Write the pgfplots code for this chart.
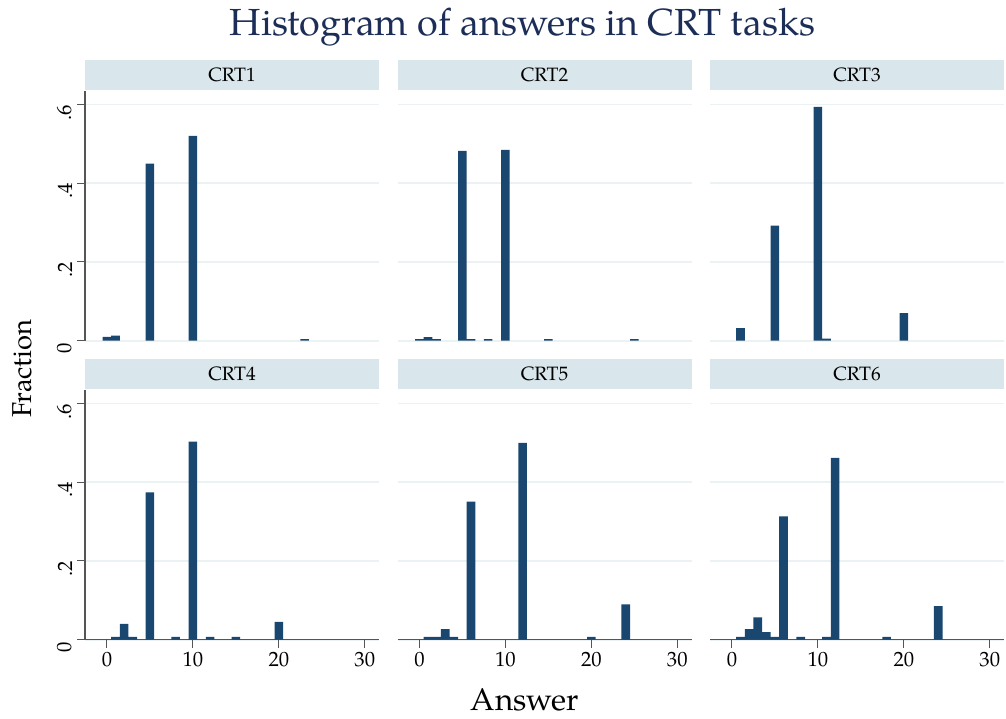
\documentclass[border=0pt]{standalone}
\usepackage{fontspec}
\setmainfont{TeX Gyre Pagella}
\usepackage{pgfplots}
\usepackage{pgfplotstable}
\pgfplotsset{compat=1.18}
\definecolor{barcol}{RGB}{26,71,111}
\definecolor{stripcol}{RGB}{217,230,235}
\definecolor{gridcol}{RGB}{234,242,243}
\definecolor{titlecol}{RGB}{28,46,88}
\definecolor{axcol}{RGB}{85,85,85}

\pgfplotstableread{
x y
0 0.0094
1 0.0127
5 0.450
10 0.520
23 0.004
}\crtA
\pgfplotstableread{
x y
0 0.004
1 0.009
2 0.004
5 0.482
6 0.004
8 0.004
10 0.485
15 0.004
25 0.004
}\crtB
\pgfplotstableread{
x y
1 0.032
5 0.292
10 0.594
11 0.005
20 0.070
}\crtC
\pgfplotstableread{
x y
1 0.007
2 0.040
3 0.007
5 0.374
8 0.007
10 0.503
12 0.007
15 0.007
20 0.045
}\crtD
\pgfplotstableread{
x y
1 0.007
2 0.007
3 0.027
4 0.007
6 0.351
12 0.500
20 0.007
24 0.090
}\crtE
\pgfplotstableread{
x y
1 0.007
2 0.027
3 0.057
4 0.019
5 0.007
6 0.313
8 0.007
11 0.007
12 0.462
18 0.007
24 0.085
}\crtF

\pgfplotsset{
  panel/.style={
    scale only axis, width=220.5pt, height=187.5pt,
    anchor=south west,
    xmin=-2.55, xmax=31.65, ymin=0, ymax=0.635,
    axis x line*=bottom, axis y line*=left,
    axis line style={draw=axcol, line width=1pt, -},
    ytick={0,0.2,0.4,0.6}, yticklabels={0,.2,.4,.6},
    xtick={0,10,20,30},
    /pgf/number format/assume math mode=true,
    ymajorgrids, major grid style={draw=gridcol, line width=1.3pt},
    tick align=outside, major tick length=6pt,
    every tick/.style={draw=axcol, line width=0.8pt},
    tick label style={font=\fontsize{15.5}{18}\selectfont, text=black},
    yticklabel style={rotate=90, anchor=south, xshift=-6pt},
    clip=false,
  },
  toprow/.style={xtick=\empty, x axis line style={draw=none}},
  inner/.style={yticklabels={}, y axis line style={draw=none}, ytick style={draw=none}},
  bars/.style={ybar, bar width=1, bar shift=0pt, fill=barcol, draw=none},
}

\newcommand{\strip}[1]{%
  \fill[stripcol] ([yshift=0.8pt]rel axis cs:0,1) rectangle ([yshift=22.8pt]rel axis cs:1,1);
  \node[font=\fontsize{14.5}{16}\selectfont] at ([yshift=11.8pt]rel axis cs:0.5,1) {#1};
}

\begin{document}
\begin{tikzpicture}
\useasboundingbox (0,0) rectangle (754.5pt,538.5pt);

\begin{axis}[panel, toprow, at={(63.75pt,282.975pt)}]
\addplot[bars] table {\crtA};
\strip{CRT1}
\end{axis}
\begin{axis}[panel, toprow, inner, at={(298.125pt,282.975pt)}]
\addplot[bars] table {\crtB};
\strip{CRT2}
\end{axis}
\begin{axis}[panel, toprow, inner, at={(532.5pt,282.975pt)}]
\addplot[bars] table {\crtC};
\strip{CRT3}
\end{axis}

\begin{axis}[panel, at={(63.75pt,58.725pt)}]
\addplot[bars] table {\crtD};
\strip{CRT4}
\end{axis}
\begin{axis}[panel, inner, at={(298.125pt,58.725pt)}]
\addplot[bars] table {\crtE};
\strip{CRT5}
\end{axis}
\begin{axis}[panel, inner, at={(532.5pt,58.725pt)}]
\addplot[bars] table {\crtF};
\strip{CRT6}
\end{axis}

\node[font=\fontsize{28.3}{32}\selectfont, text=titlecol] at (392pt,518.5pt) {Histogram of answers in CRT tasks};
\node[font=\fontsize{20.5}{24}\selectfont, rotate=90] at (16.5pt,262pt) {Fraction};
\node[font=\fontsize{23.5}{27}\selectfont] at (393.75pt,13.5pt) {Answer};
\end{tikzpicture}
\end{document}
